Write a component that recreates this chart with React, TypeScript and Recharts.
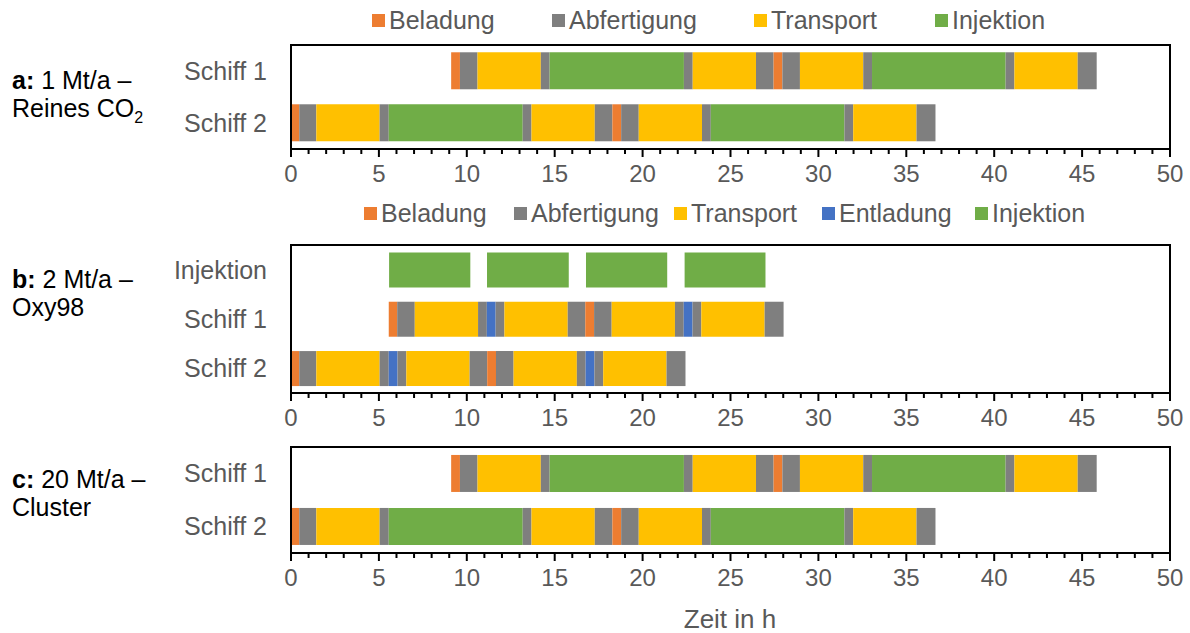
import { BarChart, Bar, XAxis, YAxis, CartesianGrid, ReferenceArea, Cell } from 'recharts'

const colors: Record<string, string> = {
  Beladung: '#ED7D31',
  Abfertigung: '#7F7F7F',
  Transport: '#FFC000',
  Entladung: '#4472C4',
  Injektion: '#70AD47',
}

const majorTicks = [0, 5, 10, 15, 20, 25, 30, 35, 40, 45, 50]
const hourTicks = Array.from({ length: 51 }, (_, i) => i)

// a: 1 Mt/a – Reines CO2 (c: 20 Mt/a – Cluster is the same schedule)
const rowsA = ['Schiff 1', 'Schiff 2']
const ship1AType = ['gap', 'Beladung', 'Abfertigung', 'Transport', 'Abfertigung', 'Injektion', 'Abfertigung', 'Transport', 'Abfertigung', 'Beladung', 'Abfertigung', 'Transport', 'Abfertigung', 'Injektion', 'Abfertigung', 'Transport', 'Abfertigung']
const ship1AHours = [9.11, 0.5, 1.0, 3.6, 0.5, 7.64, 0.5, 3.6, 1.0, 0.5, 1.0, 3.6, 0.5, 7.6, 0.5, 3.6, 1.08]
const ship2AType = ['Beladung', 'Abfertigung', 'Transport', 'Abfertigung', 'Injektion', 'Abfertigung', 'Transport', 'Abfertigung', 'Beladung', 'Abfertigung', 'Transport', 'Abfertigung', 'Injektion', 'Abfertigung', 'Transport', 'Abfertigung']
const ship2AHours = [0.47, 0.97, 3.6, 0.52, 7.62, 0.5, 3.6, 1.0, 0.5, 1.0, 3.6, 0.5, 7.6, 0.5, 3.6, 1.08]

// b: 2 Mt/a – Oxy98
const rowsB = ['Injektion', 'Schiff 1', 'Schiff 2']
const injBType = ['gap', 'Injektion', 'gap', 'Injektion', 'gap', 'Injektion', 'gap', 'Injektion']
const injBHours = [5.58, 4.62, 0.95, 4.65, 0.98, 4.62, 0.99, 4.6]
const ship1BType = ['gap', 'Beladung', 'Abfertigung', 'Transport', 'Abfertigung', 'Entladung', 'Abfertigung', 'Transport', 'Abfertigung', 'Beladung', 'Abfertigung', 'Transport', 'Abfertigung', 'Entladung', 'Abfertigung', 'Transport', 'Abfertigung']
const ship1BHours = [5.56, 0.48, 1.0, 3.6, 0.5, 0.5, 0.5, 3.6, 1.0, 0.5, 1.0, 3.6, 0.5, 0.5, 0.5, 3.6, 1.08]
const ship2BType = ['Beladung', 'Abfertigung', 'Transport', 'Abfertigung', 'Entladung', 'Abfertigung', 'Transport', 'Abfertigung', 'Beladung', 'Abfertigung', 'Transport', 'Abfertigung', 'Entladung', 'Abfertigung', 'Transport', 'Abfertigung']
const ship2BHours = [0.47, 0.97, 3.6, 0.52, 0.5, 0.5, 3.6, 1.0, 0.5, 1.0, 3.6, 0.5, 0.5, 0.5, 3.6, 1.08]

const legendA = ['Beladung', 'Abfertigung', 'Transport', 'Injektion']
const legendB = ['Beladung', 'Abfertigung', 'Transport', 'Entladung', 'Injektion']

function buildRows(names: string[], types: string[][], hours: number[][]) {
  return names.map((name, r) => {
    const row: any = { name, types: types[r] }
    hours[r].forEach((h, i) => { row[`s${i}`] = h })
    return row
  })
}

const dataA = buildRows(rowsA, [ship1AType, ship2AType], [ship1AHours, ship2AHours])
const dataB = buildRows(rowsB, [injBType, ship1BType, ship2BType], [injBHours, ship1BHours, ship2BHours])
const dataC = buildRows(rowsA, [ship1AType, ship2AType], [ship1AHours, ship2AHours])

const font = '"Liberation Sans", Arial, sans-serif'
const grey = '#595959'

const HourTick = ({ x, y, payload }: any) => {
  const major = payload.value % 5 === 0
  return (
    <g>
      <line x1={x} x2={x} y1={y} y2={y + (major ? 8 : 5)} stroke="#000" strokeWidth={2} />
      {major && (
        <text x={x} y={y + 33} textAnchor="middle" fontSize={24} fill={grey} fontFamily={font}>
          {payload.value}
        </text>
      )}
    </g>
  )
}

function Schedule({ data, top, height, mTop, gap }: { data: any[]; top: number; height: number; mTop: number; gap: string }) {
  const n = Math.max(...data.map(d => d.types.length))
  return (
    <div style={{ position: 'absolute', left: 0, top }}>
      <BarChart width={1190} height={height} data={data} layout="vertical" barCategoryGap={gap}
        margin={{ top: mTop, right: 20, left: 0, bottom: 7 }}>
        <XAxis xAxisId="grid" type="number" domain={[0, 50]} ticks={majorTicks} hide />
        <CartesianGrid xAxisId="grid" horizontal={false} stroke="#c0c0c0" strokeWidth={1.5} />
        <XAxis type="number" domain={[0, 50]} ticks={hourTicks} interval={0} tick={<HourTick />}
          tickLine={false} tickSize={0} tickMargin={0} height={40}
          axisLine={{ stroke: '#000', strokeWidth: 2 }} />
        <YAxis type="category" dataKey="name" width={291} tickLine={false} tickSize={0} tickMargin={24}
          axisLine={{ stroke: '#000', strokeWidth: 2 }}
          tick={{ fontSize: 25, fill: grey, fontFamily: font }} />
        {Array.from({ length: n }, (_, i) => (
          <Bar key={i} dataKey={`s${i}`} stackId="t" isAnimationActive={false}>
            {data.map((d, r) => (
              <Cell key={r} fill={colors[d.types[i]] ?? '#fff'} fillOpacity={colors[d.types[i]] ? 1 : 0} />
            ))}
          </Bar>
        ))}
        <ReferenceArea x1={0} x2={50} fill="none" fillOpacity={0} stroke="#000" strokeWidth={2} ifOverflow="visible" />
      </BarChart>
    </div>
  )
}

function LegendRow({ items, lefts, top }: { items: string[]; lefts: number[]; top: number }) {
  return (
    <>
      {items.map((name, i) => (
        <div key={name} style={{ position: 'absolute', left: lefts[i], top, height: 28, display: 'flex', alignItems: 'center' }}>
          <div style={{ width: 13, height: 13, background: colors[name], marginRight: 4 }} />
          <span style={{ fontSize: 25, lineHeight: '28px', color: grey, whiteSpace: 'nowrap' }}>{name}</span>
        </div>
      ))}
    </>
  )
}

const panelLabel: React.CSSProperties = { position: 'absolute', left: 12, fontSize: 25, lineHeight: '28px', color: '#000', whiteSpace: 'nowrap' }

export default function App() {
  return (
    <div style={{ position: 'absolute', left: 0, top: 0, width: 1190, height: 633, background: '#fff', fontFamily: font, overflow: 'hidden' }}>
      <LegendRow items={legendA} lefts={[372, 552, 754, 935]} top={6} />
      <LegendRow items={legendB} lefts={[364, 514, 674, 822, 975]} top={199} />

      <Schedule data={dataA} top={0} height={196} mTop={45} gap="14%" />
      <Schedule data={dataB} top={196} height={244} mTop={49} gap="15%" />
      <Schedule data={dataC} top={440} height={160} mTop={7} gap="15%" />

      <div style={{ ...panelLabel, top: 66 }}><b>a:</b> 1 Mt/a –<br />Reines CO<sub style={{ fontSize: 16, lineHeight: 0 }}>2</sub></div>
      <div style={{ ...panelLabel, top: 265 }}><b>b:</b> 2 Mt/a –<br />Oxy98</div>
      <div style={{ ...panelLabel, top: 465 }}><b>c:</b> 20 Mt/a –<br />Cluster</div>

      <div style={{ position: 'absolute', left: 630, width: 200, top: 606, textAlign: 'center', fontSize: 26, lineHeight: '26px', color: grey }}>Zeit in h</div>
    </div>
  )
}
